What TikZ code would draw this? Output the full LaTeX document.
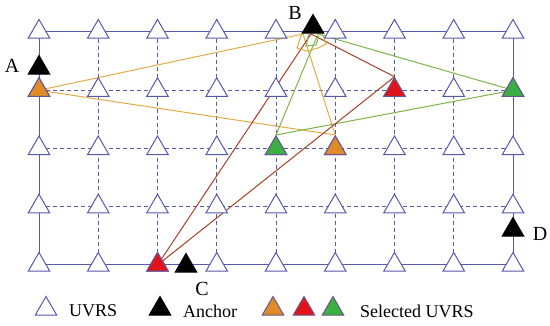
\documentclass[tikz,border=0pt]{standalone}
\usepackage{fontspec}
\setmainfont{Liberation Serif}
\usetikzlibrary{shapes.geometric,backgrounds}
\definecolor{gridblue}{RGB}{85,90,175}
\definecolor{selorange}{RGB}{222,140,40}
\definecolor{selred}{RGB}{225,20,25}
\definecolor{selgreen}{RGB}{60,175,65}
\definecolor{lnorange}{RGB}{228,170,70}
\definecolor{lngreen}{RGB}{125,180,70}
\definecolor{lnred}{RGB}{165,65,40}
\definecolor{selborder}{RGB}{105,85,145}
\begin{document}
\begin{tikzpicture}[x=1pt,y=-1pt,
  tri/.style={regular polygon, regular polygon sides=3, minimum size=25pt, inner sep=0pt, line width=1pt},
  uvrs/.style={tri, draw=gridblue, fill=white},
  anch/.style={tri, draw=black, fill=black},
  selo/.style={tri, draw=selborder, fill=selorange},
  selr/.style={tri, draw=selborder, fill=selred},
  selg/.style={tri, draw=selborder, fill=selgreen},
  solidgrid/.style={draw=gridblue, line width=1pt},
  dashgrid/.style={draw=gridblue, line width=1pt, dash pattern=on 4pt off 3pt},
  lo/.style={draw=lnorange, line width=1pt},
  lg/.style={draw=lngreen, line width=1pt},
  lr/.style={draw=lnred, line width=1pt},
  lbl/.style={inner sep=0pt, font=\fontsize{20}{24}\selectfont},
  leg/.style={inner sep=0pt, anchor=west, font=\fontsize{18}{22}\selectfont}]
\useasboundingbox (0,0) rectangle (550,326);
% grid UVRS nodes
\foreach \i in {0,...,8}{
  \foreach \j in {0,...,4}{
    \node[uvrs] (g\i\j) at ({39+59.25*\i},{32+58.25*\j}) {};
  }
}
% selected UVRS
\node[selo] (o1) at (g01) {};
\node[selo] (o2) at (g52) {};
\node[selr] (r1) at (g61) {};
\node[selr] (r2) at (g24) {};
\node[selg] (e1) at (g81) {};
\node[selg] (e2) at (g42) {};
% anchors
\node[anch] (A) at (39,68) {};
\node[anch] (B) at (313,27) {};
\node[anch] (C) at (186,266) {};
\node[anch] (D) at (513,230) {};
\node[lbl] (lA) at (12,66) {A};
\node[lbl] (lB) at (295,13) {B};
\node[lbl] (lC) at (202,289) {C};
\node[lbl] (lD) at (540,234) {D};
\coordinate (bo) at (303,34);
\coordinate (br) at (311,34);
\coordinate (bg) at (318,34);
\begin{pgfonlayer}{background}
  \draw[solidgrid] (g00.center) rectangle (g84.center);
  \foreach \i in {1,...,7}{\draw[dashgrid] (g\i0.center) -- (g\i4.center);}
  \foreach \j in {1,2,3}{\draw[dashgrid] (g0\j.center) -- (g8\j.center);}
  % orange
  \draw[lo] (o1.center) -- (bo);
  \draw[lo] (o1.center) -- (o2.north);
  \draw[lo] (bo) -- (o2.north);
  % green
  \draw[lg] (e1.center) -- (bg);
  \draw[lg] (e1.center) -- (e2.north);
  \draw[lg] (bg) -- (e2.north);
  % red
  \draw[lr] (r2.center) -- (br);
  \draw[lr] (r2.center) -- (r1.north);
  \draw[lr] (br) -- (r1.north);
  % small region near B
  \draw[lo] (302,33) -- (297,48) -- (307,51) -- (318,48) -- (326,44) -- (322,33);
  \draw[lg] (309,34) -- (306,46) -- (316,45) -- (319,36);
\end{pgfonlayer}
% legend
\node[uvrs] (k1) at (46,309) {};
\node[leg] (t1) at (69,311) {UVRS};
\node[anch] (k2) at (160,309) {};
\node[leg] (t2) at (183,311) {Anchor};
\node[selo] (k3) at (273,309) {};
\node[selr] (k4) at (304,309) {};
\node[selg] (k5) at (333,309) {};
\node[leg] (t3) at (360,311) {Selected UVRS};
\end{tikzpicture}
\end{document}
